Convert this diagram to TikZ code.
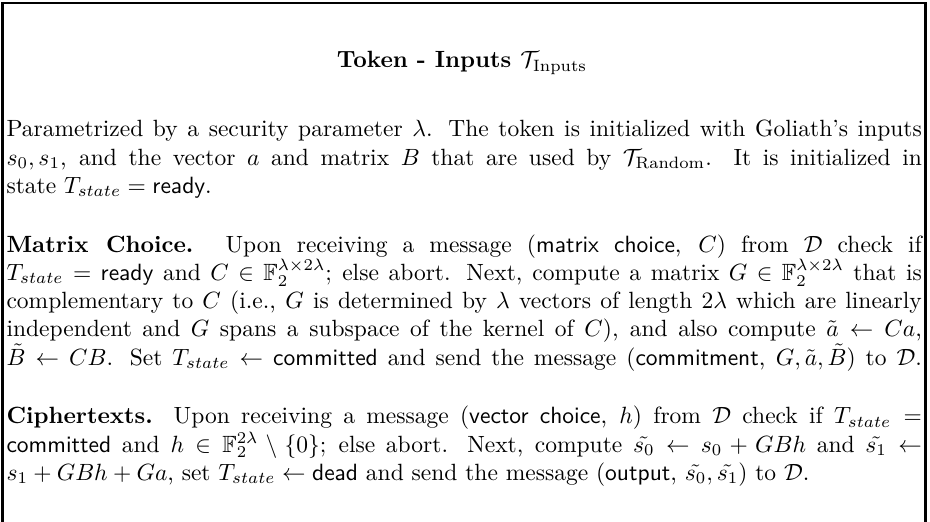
\documentclass[tikz,border=0pt]{standalone}
\usepackage{amsmath,amssymb}
\begin{document}
\begin{tikzpicture}[x=0.4255pt,y=-0.4255pt,
  txt/.style={anchor=base west,inner sep=0pt,outer sep=0pt,font=\fontsize{10}{12}\selectfont},
  frameline/.style={line width=1.05pt,line cap=rect}]
\useasboundingbox (0,0) rectangle (930,521);
% open frame: left, top and right sides
\draw[frameline] (2.6,540) -- (2.6,2.8) -- (925.4,2.8) -- (925.4,540);
\def\jl#1{\hbox to 389.5pt{#1}}
\def\ts{T_{state}}
% title
\node[txt,anchor=base] (title) at (462,68) {\textbf{Token - Inputs $\mathcal{T}_{\mathrm{Inputs}}$}};
% description
\node[txt] (p1) at (6.5,137) {\jl{Parametrized by a security parameter $\lambda$. The token is initialized with Goliath's inputs}};
\node[txt] (p2) at (6.5,165.2) {\jl{$s_0, s_1$, and the vector $a$ and matrix $B$ that are used by $\mathcal{T}_{\mathrm{Random}}$. It is initialized in}};
\node[txt] (p3) at (6.5,193.4) {state $\ts = \textsf{ready}$.};
% matrix choice
\node[txt] (m1) at (6.5,252.2) {\jl{\textbf{Matrix Choice.} Upon receiving a message (\textsf{matrix choice}, $C$) from $\mathcal{D}$ check if}};
\node[txt] (m2) at (6.5,280.4) {\jl{$\ts = \textsf{ready}$ and $C \in \mathbb{F}_2^{\lambda\times 2\lambda}$; else abort. Next, compute a matrix $G \in \mathbb{F}_2^{\lambda\times 2\lambda}$ that is}};
\node[txt] (m3) at (6.5,308.6) {\jl{complementary to $C$ (i.e., $G$ is determined by $\lambda$ vectors of length $2\lambda$ which are linearly}};
\node[txt] (m4) at (6.5,336.8) {\jl{independent and $G$ spans a subspace of the kernel of $C$), and also compute $\tilde{a} \leftarrow Ca$,}};
\node[txt] (m5) at (6.5,365) {\jl{$\tilde{B} \leftarrow CB$. Set $\ts \leftarrow \textsf{committed}$ and send the message (\textsf{commitment}, $G, \tilde{a}, \tilde{B}$) to $\mathcal{D}$.}};
% ciphertexts
\node[txt] (c1) at (6.5,423.8) {\jl{\textbf{Ciphertexts.} Upon receiving a message (\textsf{vector choice}, $h$) from $\mathcal{D}$ check if $\ts =$}};
\node[txt] (c2) at (6.5,452) {\jl{\textsf{committed} and $h \in \mathbb{F}_2^{2\lambda} \setminus \{0\}$; else abort. Next, compute $\tilde{s_0} \leftarrow s_0 + GBh$ and $\tilde{s_1} \leftarrow$}};
\node[txt] (c3) at (6.5,480.2) {$s_1 + GBh + Ga$, set $\ts \leftarrow \textsf{dead}$ and send the message (\textsf{output}, $\tilde{s_0}, \tilde{s_1}$) to $\mathcal{D}$.};
\end{tikzpicture}
\end{document}
